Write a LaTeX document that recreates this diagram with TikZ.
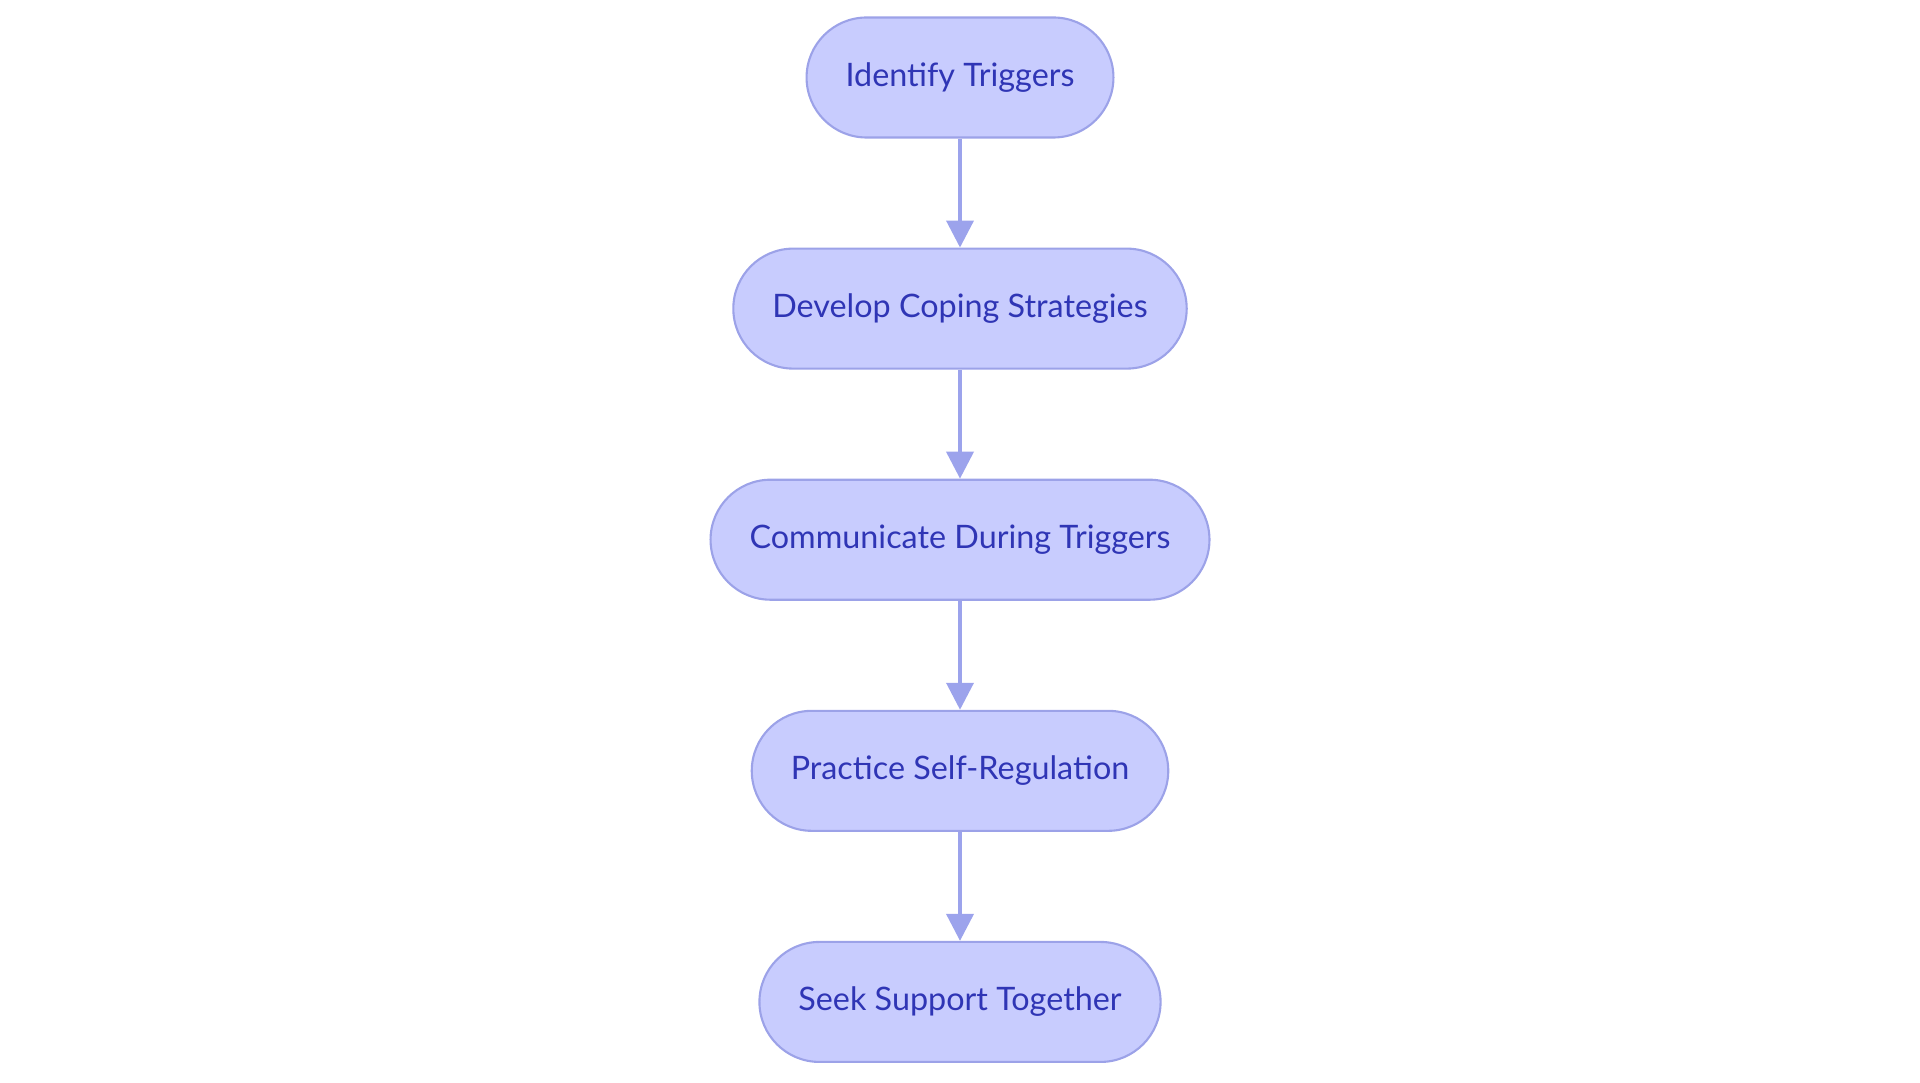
\documentclass[tikz,border=0pt]{standalone}
\usepackage{fontspec}
\setmainfont{Lato}
\usepackage{tikz}
\usetikzlibrary{positioning}
\usetikzlibrary{arrows.meta}
\definecolor{stepfill}{HTML}{C8CCFE}
\definecolor{stepline}{HTML}{9CA2E8}
\definecolor{steptext}{HTML}{2F35B5}
\definecolor{linkline}{HTML}{9CA3EC}

\begin{document}
\begin{tikzpicture}[line join=bevel,
  stepbox/.style={draw=stepline, line width=0.6pt, fill=stepfill, text=steptext,
    rounded corners=0.6cm, minimum height=1.2cm, inner xsep=0.39cm, inner ysep=0pt,
    font=\fontsize{9.2pt}{11pt}\selectfont},
  link/.style={draw=linkline, line width=1.1pt, -{Triangle[length=0.27cm,width=0.27cm]}}]
  \useasboundingbox (0,0) rectangle (19.2,-10.83);
  \node[stepbox] (identify) at (9.6,-0.775) {Identify Triggers};
  \node[stepbox, below=1.09cm of identify] (develop) {Develop Coping Strategies};
  \node[stepbox, below=1.09cm of develop] (communicate) {Communicate During Triggers};
  \node[stepbox, below=1.09cm of communicate] (practice) {Practice Self-Regulation};
  \node[stepbox, below=1.09cm of practice] (seek) {Seek Support Together};
  \draw[link] (identify) -- (develop);
  \draw[link] (develop) -- (communicate);
  \draw[link] (communicate) -- (practice);
  \draw[link] (practice) -- (seek);
\end{tikzpicture}
\end{document}
